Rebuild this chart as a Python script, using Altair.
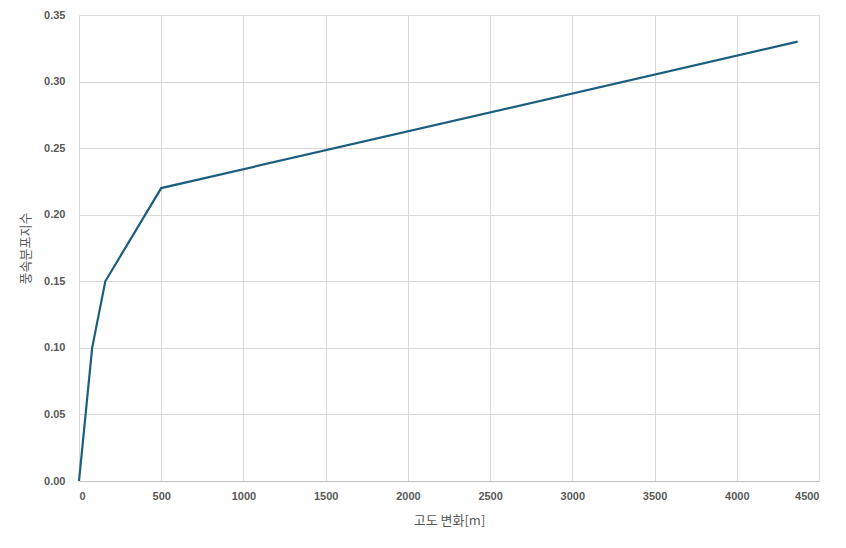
import altair as alt
import pandas as pd

altitude_change = [0, 80, 160, 500, 4370]
distribution_index = [0.0, 0.10, 0.15, 0.22, 0.33]

df = pd.DataFrame({"x": altitude_change, "y": distribution_index})

FONT = "Noto Sans CJK KR"
GRAY = "#595959"

chart = alt.Chart(df).mark_line(color="#1B5E7E", strokeWidth=2.2).encode(
    x=alt.X("x:Q", title="고도 변화[m]",
            scale=alt.Scale(domain=[0, 4500], nice=False),
            axis=alt.Axis(values=list(range(0, 4501, 500)), format="d",
                          labelFontWeight="bold", labelFontSize=11, labelColor=GRAY,
                          labelFont="Liberation Sans", labelPadding=9,
                          tickSize=0, domainColor="#bfbfbf",
                          gridColor="#d9d9d9", titleFont=FONT, titleFontSize=13,
                          titleFontWeight="normal", titleColor=GRAY, titlePadding=13)),
    y=alt.Y("y:Q", title="풍속분포지수",
            scale=alt.Scale(domain=[0, 0.35], nice=False),
            axis=alt.Axis(values=[0, 0.05, 0.1, 0.15, 0.2, 0.25, 0.3, 0.35], format=".2f",
                          labelFontWeight="bold", labelFontSize=11, labelColor=GRAY,
                          labelFont="Liberation Sans", labelPadding=14,
                          tickSize=0, domain=False,
                          gridColor="#d9d9d9", titleFont=FONT, titleFontSize=13,
                          titleFontWeight="normal", titleColor=GRAY, titlePadding=11)),
).properties(
    width=740, height=466,
    autosize=alt.AutoSizeParams(type="none"),
    padding={"left": 71, "top": 7, "right": 19, "bottom": 55},
).configure_view(stroke=None)

chart.save("out.html", embed_options={"renderer": "svg", "actions": False})
